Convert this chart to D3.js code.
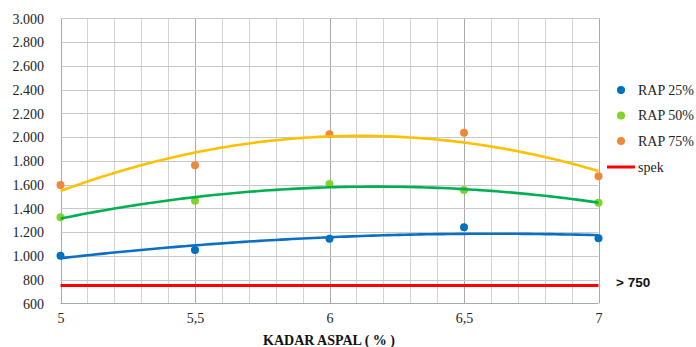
<!DOCTYPE html>
<html><head><meta charset="utf-8">
<script src="https://cdn.jsdelivr.net/npm/d3@7"></script>
<style>body{margin:0;background:#fff;overflow:hidden}svg{display:block}</style>
</head><body><svg id="c" width="696" height="347"></svg>
<script>
const xValues = [5, 5.5, 6, 6.5, 7];
const xTickLabels = ["5", "5,5", "6", "6,5", "7"];
const rap25 = [1001, 1049, 1144, 1240, 1148];
const rap50 = [1324, 1464, 1605, 1554, 1447];
const rap75 = [1596, 1762, 2023, 2037, 1669];
const spekValue = 750;
const yTicks = [600, 800, 1000, 1200, 1400, 1600, 1800, 2000, 2200, 2400, 2600, 2800, 3000];
const seriesNames = ["RAP 25%", "RAP 50%", "RAP 75%"];
const pointColors = ["#0070c0", "#7fd32a", "#f0873a"];
const trendColors = ["#0a70c4", "#00b050", "#ffc000"];

const SERIF = '"Liberation Serif", "Times New Roman", serif';
const SANS = '"Liberation Sans", Arial, sans-serif';

const svg = d3.select("#c");
const x = d3.scaleLinear().domain([5, 7]).range([60.5, 598.5]);
const y = d3.scaleLinear().domain([600, 3000]).range([303.3, 18.3]);

// vertical gridlines every 0.1
const vg = d3.range(0, 21).map(i => 5 + i * 0.1);
svg.append("g").selectAll("line").data(vg).join("line")
  .attr("x1", d => Math.round(x(d)) + 0.5).attr("x2", d => Math.round(x(d)) + 0.5)
  .attr("y1", y(3000)).attr("y2", y(600))
  .attr("stroke", (d, i) => i % 5 === 0 ? "#a9a9a9" : "#d3d3d3").attr("stroke-width", 1);
// horizontal gridlines
svg.append("g").selectAll("line").data(yTicks).join("line")
  .attr("x1", x(5)).attr("x2", x(7))
  .attr("y1", d => Math.round(y(d)) + 0.5).attr("y2", d => Math.round(y(d)) + 0.5)
  .attr("stroke", d => d === 600 ? "#a9a9a9" : "#c8c8c8").attr("stroke-width", 1);

// y axis labels
const yAxis = d3.axisLeft(y).tickValues(yTicks).tickSize(0).tickPadding(0)
  .tickFormat(d => d3.format(",.0f")(d).replace(/,/g, "."));
const gy = svg.append("g").attr("transform", "translate(44,0)").call(yAxis)
  .attr("font-family", null).attr("font-size", null);
gy.select(".domain").remove();
gy.selectAll("text").style("font-family", SERIF)
  .style("font-size", "14px").attr("fill", "#222").attr("dy", "0.35em");

// x axis labels
const xAxis = d3.axisBottom(x).tickValues(xValues).tickSize(0).tickPadding(0)
  .tickFormat((d, i) => xTickLabels[i]);
const gx = svg.append("g").attr("transform", "translate(0,313)").call(xAxis)
  .attr("font-family", null).attr("font-size", null);
gx.select(".domain").remove();
gx.selectAll("text").style("font-family", SERIF)
  .style("font-size", "14px").attr("fill", "#222").attr("dy", "0.71em");

// x axis title
svg.append("text").attr("x", 329).attr("y", 344.5).attr("text-anchor", "middle")
  .style("font-family", SERIF).style("font-weight", "bold")
  .style("font-size", "14px").attr("fill", "#111").text("KADAR ASPAL ( % )");

// spek line
svg.append("line").attr("x1", x(5)).attr("x2", x(7)).attr("y1", y(spekValue)).attr("y2", y(spekValue))
  .attr("stroke", "#ff0000").attr("stroke-width", 3);

// quadratic least-squares fit (polynomial trendline of the data)
function polyFit2(xs, ys) {
  const n = xs.length;
  let s = [0, 0, 0, 0, 0], t = [0, 0, 0];
  for (let i = 0; i < n; i++) {
    for (let k = 0; k < 5; k++) s[k] += Math.pow(xs[i], k);
    for (let k = 0; k < 3; k++) t[k] += ys[i] * Math.pow(xs[i], k);
  }
  const A = [[s[0], s[1], s[2], t[0]], [s[1], s[2], s[3], t[1]], [s[2], s[3], s[4], t[2]]];
  for (let i = 0; i < 3; i++) {
    for (let j = i + 1; j < 3; j++) {
      const f = A[j][i] / A[i][i];
      for (let k = i; k < 4; k++) A[j][k] -= f * A[i][k];
    }
  }
  const c = [0, 0, 0];
  for (let i = 2; i >= 0; i--) {
    let v = A[i][3];
    for (let k = i + 1; k < 3; k++) v -= A[i][k] * c[k];
    c[i] = v / A[i][i];
  }
  return xv => c[0] + c[1] * xv + c[2] * xv * xv;
}

const series = [rap25, rap50, rap75];
const line = d3.line().x(d => x(d[0])).y(d => y(d[1]));
const sampleX = d3.range(0, 101).map(i => 5 + i * 0.02);

series.forEach((vals, si) => {
  svg.append("g").selectAll("circle").data(vals).join("circle")
    .attr("cx", (d, i) => x(xValues[i])).attr("cy", d => y(d)).attr("r", 4)
    .attr("fill", pointColors[si]);
});
series.forEach((vals, si) => {
  const f = polyFit2(xValues, vals);
  svg.append("path").datum(sampleX.map(v => [v, f(v)])).attr("d", line)
    .attr("fill", "none").attr("stroke", trendColors[si]).attr("stroke-width", 2.6);
});

// legend
const lg = svg.append("g");
seriesNames.forEach((nm, i) => {
  const ly = 90 + i * 25.5;
  lg.append("circle").attr("cx", 621).attr("cy", ly).attr("r", 4).attr("fill", pointColors[i]);
  lg.append("text").attr("x", 638).attr("y", ly + 4.5)
    .style("font-family", SERIF).style("font-size", "14px")
    .attr("fill", "#222").text(nm);
});
lg.append("line").attr("x1", 607).attr("x2", 635).attr("y1", 167).attr("y2", 167)
  .attr("stroke", "#ff0000").attr("stroke-width", 3);
lg.append("text").attr("x", 638).attr("y", 171.5)
  .style("font-family", SERIF).style("font-size", "14px")
  .attr("fill", "#222").text("spek");

svg.append("text").attr("x", 616).attr("y", 287)
  .style("font-family", SANS).style("font-weight", "bold")
  .style("font-size", "13.5px").attr("fill", "#111").text("> 750");
</script></body></html>
